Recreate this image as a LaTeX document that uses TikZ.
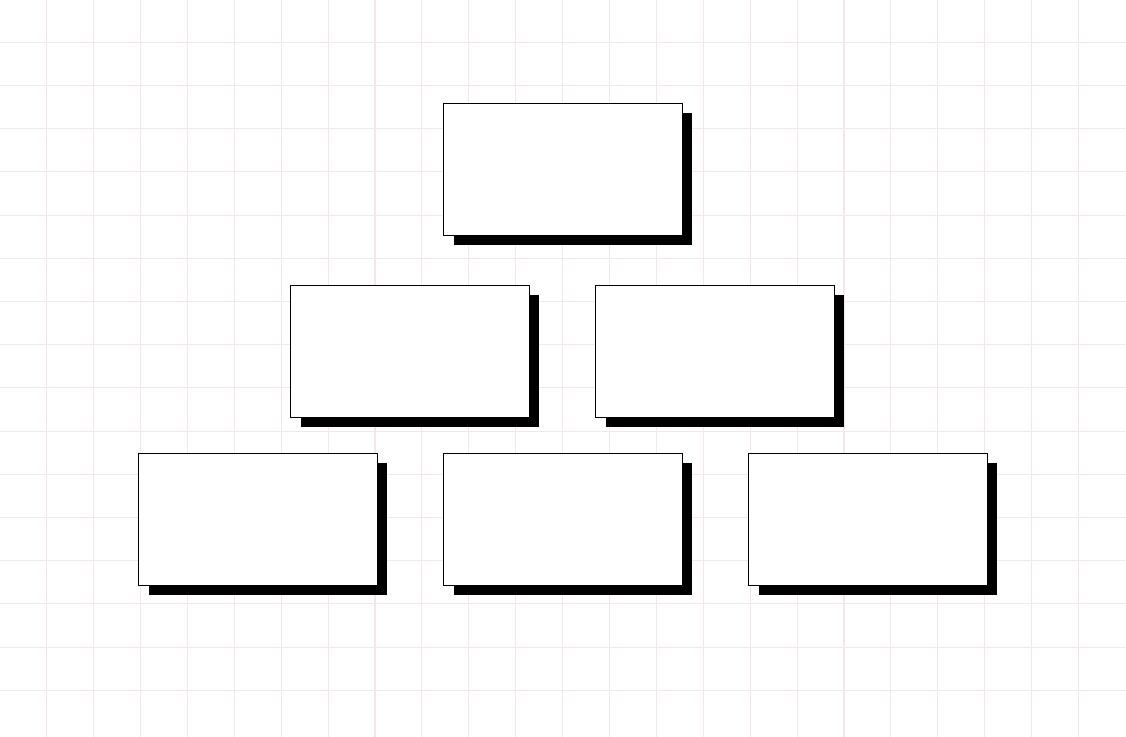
\documentclass[tikz,border=0pt]{standalone}
\usetikzlibrary{shadows}
\definecolor{gridpink}{RGB}{242,232,236}
\begin{document}
\begin{tikzpicture}[x=0.02cm,y=-0.02cm,
    box/.style={draw,fill=white,line width=0.5pt,minimum width=4.78cm,minimum height=2.64cm,
      drop shadow={shadow xshift=0.2cm,shadow yshift=-0.2cm,fill=black,opacity=1}}]
  \useasboundingbox[fill=white] (0,0) rectangle (1126,737);
  \begin{scope}[gridpink,line width=0.6pt]
    \foreach \k in {0,...,22}
      \draw ({46.7+46.9*\k},0) -- ({46.7+46.9*\k},737);
    \foreach \k in {0,...,15}
      \draw (0,{42.3+43.2*\k}) -- (1126,{42.3+43.2*\k});
  \end{scope}
  \draw
    (563,169) node[box] (0){}
    (410,351) node[box] (1){}
    (715,351) node[box] (2){}
    (258,519) node[box] (3){}
    (563,519) node[box] (4){}
    (868,519) node[box] (5){};
\end{tikzpicture}
\end{document}
